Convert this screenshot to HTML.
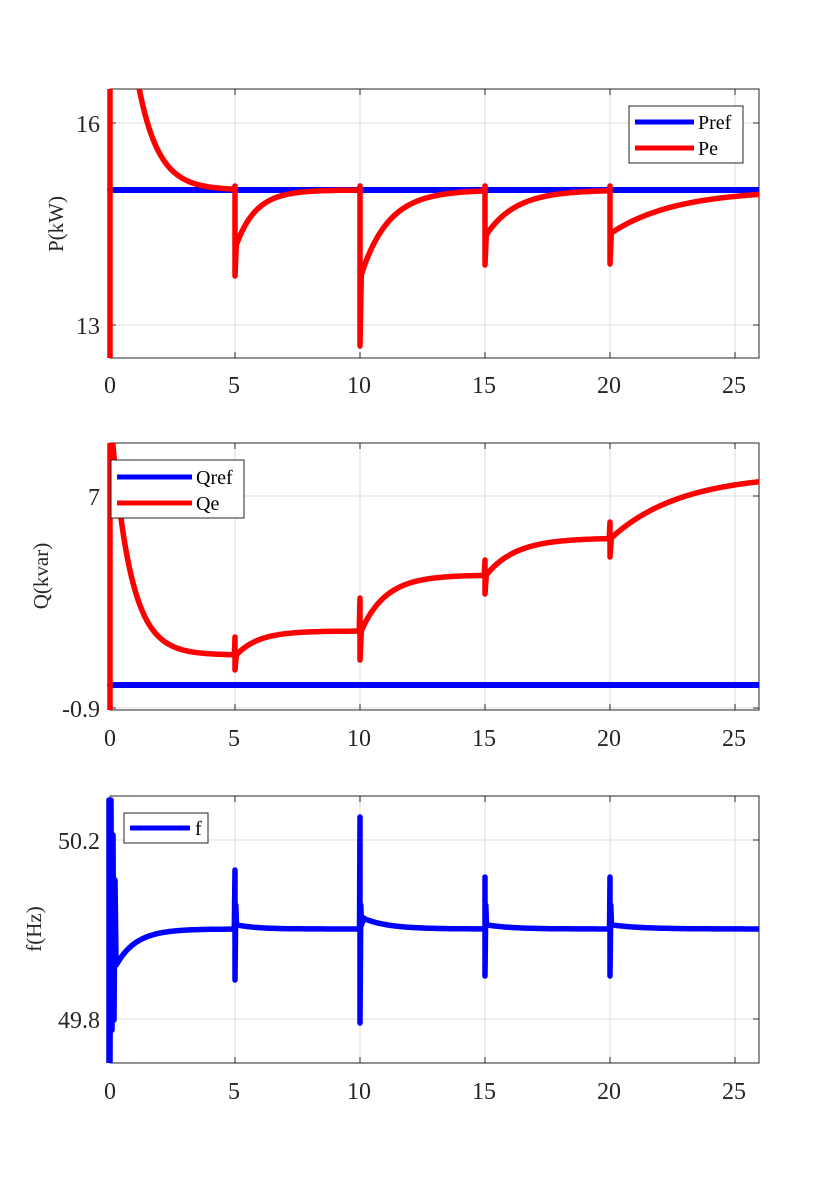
<!DOCTYPE html>
<html><head><meta charset="utf-8"><style>
html,body{margin:0;padding:0;background:#fff;}
svg{display:block;font-family:"Liberation Serif",serif;}
</style></head><body>
<svg id="s" width="840" height="1196" xmlns="http://www.w3.org/2000/svg">
<rect width="840" height="1196" fill="#fff"/>
<defs>
<clipPath id="c1"><rect x="106" y="89" width="653" height="269"/></clipPath>
<clipPath id="c2"><rect x="106" y="443" width="653" height="267"/></clipPath>
<clipPath id="c3"><rect x="106" y="796" width="653" height="267"/></clipPath>
</defs>
<g id="grid" stroke="#dcdcdc" stroke-width="1"></g>
<g fill="none" stroke="#262626" stroke-width="1">
<rect x="110" y="89" width="649" height="269"/>
<rect x="110" y="443" width="649" height="267"/>
<rect x="110" y="796" width="649" height="267"/>
</g>
<g id="ticks" stroke="#262626" stroke-width="1"></g>
<g clip-path="url(#c1)" fill="none" stroke-linejoin="round" stroke-linecap="round">
<line x1="110" y1="190" x2="759" y2="190" stroke="#0000ff" stroke-width="6"/>
<path id="p1" stroke="#ff0000" stroke-width="5.5"/>
</g>
<g clip-path="url(#c2)" fill="none" stroke-linejoin="round" stroke-linecap="round">
<line x1="110" y1="685" x2="759" y2="685" stroke="#0000ff" stroke-width="6"/>
<path id="p2" stroke="#ff0000" stroke-width="5.5"/>
</g>
<g clip-path="url(#c3)" fill="none" stroke-linejoin="round" stroke-linecap="round">
<path id="p3" stroke="#0000ff" stroke-width="5.5"/>
</g>
<g font-size="24" fill="#262626" text-anchor="middle">
<text x="110" y="393">0</text><text x="234" y="393">5</text><text x="359" y="393">10</text><text x="484" y="393">15</text><text x="609" y="393">20</text><text x="734" y="393">25</text>
<text x="110" y="746">0</text><text x="234" y="746">5</text><text x="359" y="746">10</text><text x="484" y="746">15</text><text x="609" y="746">20</text><text x="734" y="746">25</text>
<text x="110" y="1099">0</text><text x="234" y="1099">5</text><text x="359" y="1099">10</text><text x="484" y="1099">15</text><text x="609" y="1099">20</text><text x="734" y="1099">25</text>
</g>
<g font-size="24" fill="#262626" text-anchor="end">
<text x="100" y="132">16</text><text x="100" y="334">13</text>
<text x="100" y="505">7</text><text x="100" y="717">-0.9</text>
<text x="100" y="849">50.2</text><text x="100" y="1028">49.8</text>
</g>
<g font-size="21" fill="#262626" text-anchor="middle">
<text transform="translate(63,224) rotate(-90)">P(kW)</text>
<text transform="translate(48,576) rotate(-90)">Q(kvar)</text>
<text transform="translate(41,929) rotate(-90)">f(Hz)</text>
</g>
<g font-size="20" fill="#000">
<rect x="629" y="106" width="114" height="57" fill="#fff" stroke="#262626"/>
<line x1="635" y1="122" x2="694" y2="122" stroke="#0000ff" stroke-width="5"/>
<line x1="635" y1="148" x2="694" y2="148" stroke="#ff0000" stroke-width="5"/>
<text x="698" y="129">Pref</text><text x="698" y="155">Pe</text>
<rect x="111" y="460" width="133" height="58" fill="#fff" stroke="#262626"/>
<line x1="117" y1="477" x2="192" y2="477" stroke="#0000ff" stroke-width="5"/>
<line x1="117" y1="503" x2="192" y2="503" stroke="#ff0000" stroke-width="5"/>
<text x="196" y="484">Qref</text><text x="196" y="510">Qe</text>
<rect x="124" y="813" width="84" height="30" fill="#fff" stroke="#262626"/>
<line x1="130" y1="828" x2="190" y2="828" stroke="#0000ff" stroke-width="5"/>
<text x="195" y="835">f</text>
</g>
<script>
(function(){
var X=function(t){return 110+25*t;};
var g=document.getElementById('grid'),tk=document.getElementById('ticks');
var ns='http://www.w3.org/2000/svg';
function ln(p,a,b,c,d){var l=document.createElementNS(ns,'line');l.setAttribute('x1',a);l.setAttribute('y1',b);l.setAttribute('x2',c);l.setAttribute('y2',d);p.appendChild(l);}
var panels=[[89,358,[123,325]],[443,710,[496,708]],[796,1063,[840,1019]]];
panels.forEach(function(p){
 for(var t=5;t<=25;t+=5){ln(g,X(t),p[0],X(t),p[1]);ln(tk,X(t),p[1],X(t),p[1]-6);ln(tk,X(t),p[0],X(t),p[0]+6);}
 ln(tk,110,p[1],110,p[1]-6);
 p[2].forEach(function(y){ln(g,110,y,759,y);ln(tk,110,y,116,y);ln(tk,759,y,753,y);});
});
function seg(arr,t0,t1,f){for(var t=t0;t<=t1+1e-9;t+=0.04)arr.push([X(t),f(t)]);}
function d(arr){return 'M'+arr.map(function(p){return p[0].toFixed(1)+','+p[1].toFixed(1);}).join('L');}
var a=[[110,360],[110,85],[111,85]];
seg(a,1.0,5,function(t){return 190-125*Math.exp(-(t-1.0)/0.8);});
a.push([X(5),186],[X(5),276],[X(5.05),245]);
seg(a,5.05,10,function(t){return 190+55*Math.exp(-(t-5.05)/0.8);});
a.push([X(10),186],[X(10),346],[X(10.05),275]);
seg(a,10.05,15,function(t){return 190+85*Math.exp(-(t-10.05)/1.1);});
a.push([X(15),186],[X(15),265],[X(15.05),235]);
seg(a,15.05,20,function(t){return 190+45*Math.exp(-(t-15.05)/1.2);});
a.push([X(20),186],[X(20),264],[X(20.05),233]);
seg(a,20.05,26.2,function(t){return 190+43*Math.exp(-(t-20.05)/2.6);});
document.getElementById('p1').setAttribute('d',d(a));
var b=[[110,712],[110,440]];
seg(b,0.1,5,function(t){return 655-(655-440)*Math.exp(-(t-0.1)/0.75);});
b.push([X(5),637],[X(5),670],[X(5.05),655]);
seg(b,5.05,10,function(t){return 631+24*Math.exp(-(t-5.05)/0.9);});
b.push([X(10),598],[X(10),660],[X(10.05),631]);
seg(b,10.05,15,function(t){return 575+56*Math.exp(-(t-10.05)/1.0);});
b.push([X(15),560],[X(15),594],[X(15.05),575]);
seg(b,15.05,20,function(t){return 538+37*Math.exp(-(t-15.05)/1.2);});
b.push([X(20),522],[X(20),557],[X(20.05),538]);
seg(b,20.05,26.2,function(t){return 474+64*Math.exp(-(t-20.05)/2.8);});
document.getElementById('p2').setAttribute('d',d(b));
var c=[[109,1065],[109,800],[110,1065],[111,800],[112,1030],[113,835],[114,1020],[115,880],[116,960]];
seg(c,0.25,5,function(t){return 929+36*Math.exp(-(t-0.25)/0.8);});
function sp(t,up,dn){c.push([X(t),up],[X(t),dn],[X(t+0.03),905],[X(t+0.06),925]);}
sp(5,870,980);
seg(c,5.1,10,function(t){return 929-4*Math.exp(-(t-5.1)/0.8);});
sp(10,817,1023);
c.push([X(10.15),918]);
seg(c,10.2,15,function(t){return 929-10*Math.exp(-(t-10.2)/1.0);});
sp(15,877,976);
seg(c,15.1,20,function(t){return 929-4*Math.exp(-(t-15.1)/1.0);});
sp(20,877,976);
seg(c,20.1,26.2,function(t){return 929-4*Math.exp(-(t-20.1)/1.2);});
document.getElementById('p3').setAttribute('d',d(c));
})();
</script>
</svg>
</body></html>
